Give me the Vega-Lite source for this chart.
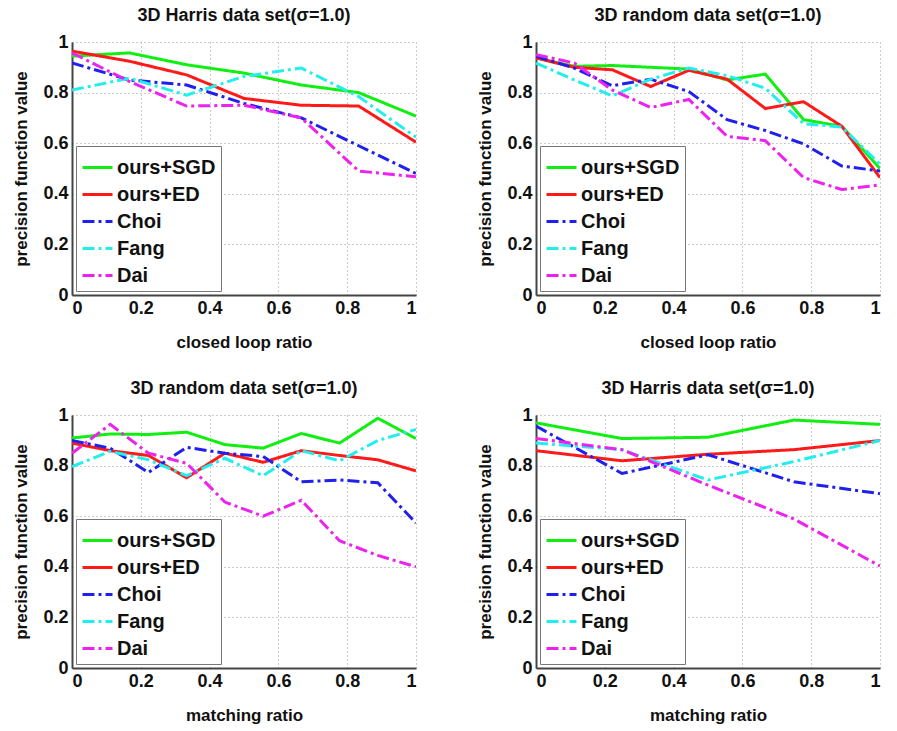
{
  "$schema": "https://vega.github.io/schema/vega-lite/v6.json",
  "background": "white",
  "padding": {"left": 12, "top": 7, "right": 8, "bottom": 6},
  "config": {
    "font": "Liberation Sans",
    "view": {"stroke": null},
    "title": {"fontSize": 18, "fontWeight": "bold", "font": "Liberation Sans", "color": "#111", "offset": 8},
    "axis": {
      "labelFont": "Liberation Sans", "labelFontSize": 18, "labelFontWeight": "bold", "labelColor": "#111",
      "titleFont": "Liberation Sans", "titleFontSize": 17, "titleFontWeight": "bold", "titleColor": "#111",
      "domainColor": "#444", "domainWidth": 2, "ticks": false, "labelPadding": 4,
      "gridColor": "#999", "gridDash": [1, 3], "gridWidth": 1
    },
    "legend": {
      "orient": "bottom-left", "offset": 4, "fillColor": "white", "strokeColor": "#777",
      "padding": 5, "labelFont": "Liberation Sans", "labelFontSize": 20, "labelFontWeight": "bold", "labelColor": "#111",
      "symbolType": "stroke", "symbolSize": 900, "symbolStrokeWidth": 3, "rowPadding": -4, "labelOffset": 3, "labelLimit": 200
    }
  },
  "datasets": {
    "p1": [
      {"m":"ours+SGD","x":0,"y":0.944},{"m":"ours+SGD","x":0.1667,"y":0.957},{"m":"ours+SGD","x":0.3333,"y":0.91},{"m":"ours+SGD","x":0.5,"y":0.877},{"m":"ours+SGD","x":0.6667,"y":0.83},{"m":"ours+SGD","x":0.8333,"y":0.8},{"m":"ours+SGD","x":1,"y":0.707},
      {"m":"ours+ED","x":0,"y":0.964},{"m":"ours+ED","x":0.1667,"y":0.924},{"m":"ours+ED","x":0.3333,"y":0.87},{"m":"ours+ED","x":0.5,"y":0.777},{"m":"ours+ED","x":0.6667,"y":0.75},{"m":"ours+ED","x":0.8333,"y":0.747},{"m":"ours+ED","x":1,"y":0.604},
      {"m":"Choi","x":0,"y":0.917},{"m":"Choi","x":0.1667,"y":0.85},{"m":"Choi","x":0.3333,"y":0.83},{"m":"Choi","x":0.5,"y":0.757},{"m":"Choi","x":0.6667,"y":0.7},{"m":"Choi","x":0.8333,"y":0.59},{"m":"Choi","x":1,"y":0.48},
      {"m":"Fang","x":0,"y":0.81},{"m":"Fang","x":0.1667,"y":0.857},{"m":"Fang","x":0.3333,"y":0.79},{"m":"Fang","x":0.5,"y":0.864},{"m":"Fang","x":0.6667,"y":0.897},{"m":"Fang","x":0.8333,"y":0.784},{"m":"Fang","x":1,"y":0.624},
      {"m":"Dai","x":0,"y":0.957},{"m":"Dai","x":0.1667,"y":0.844},{"m":"Dai","x":0.3333,"y":0.747},{"m":"Dai","x":0.5,"y":0.75},{"m":"Dai","x":0.6667,"y":0.7},{"m":"Dai","x":0.8333,"y":0.49},{"m":"Dai","x":1,"y":0.467}
    ],
    "p2": [
      {"m":"ours+SGD","x":0,"y":0.937},{"m":"ours+SGD","x":0.1111,"y":0.904},{"m":"ours+SGD","x":0.2222,"y":0.907},{"m":"ours+SGD","x":0.3333,"y":0.9},{"m":"ours+SGD","x":0.4444,"y":0.893},{"m":"ours+SGD","x":0.5556,"y":0.85},{"m":"ours+SGD","x":0.6667,"y":0.873},{"m":"ours+SGD","x":0.7778,"y":0.693},{"m":"ours+SGD","x":0.8889,"y":0.667},{"m":"ours+SGD","x":1,"y":0.5},
      {"m":"ours+ED","x":0,"y":0.937},{"m":"ours+ED","x":0.1111,"y":0.9},{"m":"ours+ED","x":0.2222,"y":0.89},{"m":"ours+ED","x":0.3333,"y":0.824},{"m":"ours+ED","x":0.4444,"y":0.888},{"m":"ours+ED","x":0.5556,"y":0.853},{"m":"ours+ED","x":0.6667,"y":0.737},{"m":"ours+ED","x":0.7778,"y":0.764},{"m":"ours+ED","x":0.8889,"y":0.667},{"m":"ours+ED","x":1,"y":0.464},
      {"m":"Choi","x":0,"y":0.944},{"m":"Choi","x":0.1111,"y":0.897},{"m":"Choi","x":0.2222,"y":0.827},{"m":"Choi","x":0.3333,"y":0.853},{"m":"Choi","x":0.4444,"y":0.804},{"m":"Choi","x":0.5556,"y":0.693},{"m":"Choi","x":0.6667,"y":0.65},{"m":"Choi","x":0.7778,"y":0.597},{"m":"Choi","x":0.8889,"y":0.51},{"m":"Choi","x":1,"y":0.49},
      {"m":"Fang","x":0,"y":0.917},{"m":"Fang","x":0.1111,"y":0.85},{"m":"Fang","x":0.2222,"y":0.787},{"m":"Fang","x":0.3333,"y":0.853},{"m":"Fang","x":0.4444,"y":0.897},{"m":"Fang","x":0.5556,"y":0.867},{"m":"Fang","x":0.6667,"y":0.817},{"m":"Fang","x":0.7778,"y":0.677},{"m":"Fang","x":0.8889,"y":0.664},{"m":"Fang","x":1,"y":0.517},
      {"m":"Dai","x":0,"y":0.95},{"m":"Dai","x":0.1111,"y":0.917},{"m":"Dai","x":0.2222,"y":0.81},{"m":"Dai","x":0.3333,"y":0.741},{"m":"Dai","x":0.4444,"y":0.773},{"m":"Dai","x":0.5556,"y":0.627},{"m":"Dai","x":0.6667,"y":0.61},{"m":"Dai","x":0.7778,"y":0.464},{"m":"Dai","x":0.8889,"y":0.417},{"m":"Dai","x":1,"y":0.435}
    ],
    "p3": [
      {"m":"ours+SGD","x":0,"y":0.909},{"m":"ours+SGD","x":0.1111,"y":0.925},{"m":"ours+SGD","x":0.2222,"y":0.923},{"m":"ours+SGD","x":0.3333,"y":0.932},{"m":"ours+SGD","x":0.4444,"y":0.883},{"m":"ours+SGD","x":0.5556,"y":0.869},{"m":"ours+SGD","x":0.6667,"y":0.927},{"m":"ours+SGD","x":0.7778,"y":0.889},{"m":"ours+SGD","x":0.8889,"y":0.987},{"m":"ours+SGD","x":1,"y":0.907},
      {"m":"ours+ED","x":0,"y":0.889},{"m":"ours+ED","x":0.1111,"y":0.859},{"m":"ours+ED","x":0.2222,"y":0.84},{"m":"ours+ED","x":0.3333,"y":0.752},{"m":"ours+ED","x":0.4444,"y":0.849},{"m":"ours+ED","x":0.5556,"y":0.813},{"m":"ours+ED","x":0.6667,"y":0.859},{"m":"ours+ED","x":0.7778,"y":0.84},{"m":"ours+ED","x":0.8889,"y":0.823},{"m":"ours+ED","x":1,"y":0.779},
      {"m":"Choi","x":0,"y":0.899},{"m":"Choi","x":0.1111,"y":0.869},{"m":"Choi","x":0.2222,"y":0.773},{"m":"Choi","x":0.3333,"y":0.872},{"m":"Choi","x":0.4444,"y":0.849},{"m":"Choi","x":0.5556,"y":0.836},{"m":"Choi","x":0.6667,"y":0.736},{"m":"Choi","x":0.7778,"y":0.743},{"m":"Choi","x":0.8889,"y":0.732},{"m":"Choi","x":1,"y":0.573},
      {"m":"Fang","x":0,"y":0.796},{"m":"Fang","x":0.1111,"y":0.856},{"m":"Fang","x":0.2222,"y":0.823},{"m":"Fang","x":0.3333,"y":0.76},{"m":"Fang","x":0.4444,"y":0.829},{"m":"Fang","x":0.5556,"y":0.76},{"m":"Fang","x":0.6667,"y":0.859},{"m":"Fang","x":0.7778,"y":0.819},{"m":"Fang","x":0.8889,"y":0.899},{"m":"Fang","x":1,"y":0.943},
      {"m":"Dai","x":0,"y":0.849},{"m":"Dai","x":0.1111,"y":0.963},{"m":"Dai","x":0.2222,"y":0.849},{"m":"Dai","x":0.3333,"y":0.809},{"m":"Dai","x":0.4444,"y":0.656},{"m":"Dai","x":0.5556,"y":0.6},{"m":"Dai","x":0.6667,"y":0.663},{"m":"Dai","x":0.7778,"y":0.503},{"m":"Dai","x":0.8889,"y":0.445},{"m":"Dai","x":1,"y":0.4}
    ],
    "p4": [
      {"m":"ours+SGD","x":0,"y":0.969},{"m":"ours+SGD","x":0.25,"y":0.907},{"m":"ours+SGD","x":0.5,"y":0.912},{"m":"ours+SGD","x":0.75,"y":0.98},{"m":"ours+SGD","x":1,"y":0.963},
      {"m":"ours+ED","x":0,"y":0.859},{"m":"ours+ED","x":0.25,"y":0.819},{"m":"ours+ED","x":0.5,"y":0.845},{"m":"ours+ED","x":0.75,"y":0.863},{"m":"ours+ED","x":1,"y":0.899},
      {"m":"Choi","x":0,"y":0.956},{"m":"Choi","x":0.25,"y":0.769},{"m":"Choi","x":0.5,"y":0.843},{"m":"Choi","x":0.75,"y":0.736},{"m":"Choi","x":1,"y":0.689},
      {"m":"Fang","x":0,"y":0.889},{"m":"Fang","x":0.25,"y":0.863},{"m":"Fang","x":0.5,"y":0.743},{"m":"Fang","x":0.75,"y":0.816},{"m":"Fang","x":1,"y":0.899},
      {"m":"Dai","x":0,"y":0.907},{"m":"Dai","x":0.25,"y":0.863},{"m":"Dai","x":0.5,"y":0.723},{"m":"Dai","x":0.75,"y":0.589},{"m":"Dai","x":1,"y":0.403}
    ]
  },
  "columns": 2,
  "spacing": 120,
  "bounds": "flush",
  "concat": [
    {
      "title": "3D Harris data set(σ=1.0)",
      "width": 344, "height": 253,
      "data": {"name": "p1"},
      "mark": {"type": "line", "strokeWidth": 3, "clip": true},
      "encoding": {
        "x": {"field": "x", "type": "quantitative", "scale": {"domain": [0, 1], "nice": false}, "axis": {"title": "closed loop ratio", "values": [0, 0.2, 0.4, 0.6, 0.8, 1], "format": "~g", "titlePadding": 17}},
        "y": {"field": "y", "type": "quantitative", "scale": {"domain": [0, 1], "nice": false}, "axis": {"title": "precision function value", "values": [0, 0.2, 0.4, 0.6, 0.8, 1], "format": "~g", "titlePadding": 12}},
        "color": {"field": "m", "type": "nominal", "title": null, "scale": {"domain": ["ours+SGD", "ours+ED", "Choi", "Fang", "Dai"], "range": ["#11ee11", "#ff1a1a", "#2020ee", "#22eeee", "#ee22ee"]}},
        "strokeDash": {"field": "m", "type": "nominal", "title": null, "scale": {"domain": ["ours+SGD", "ours+ED", "Choi", "Fang", "Dai"], "range": [[1, 0], [1, 0], [12, 4, 3, 4], [12, 4, 3, 4], [12, 4, 3, 4]]}},
        "order": {"field": "x", "type": "quantitative"}
      }
    },
    {
      "title": "3D random data set(σ=1.0)",
      "width": 344, "height": 253,
      "data": {"name": "p2"},
      "mark": {"type": "line", "strokeWidth": 3, "clip": true},
      "encoding": {
        "x": {"field": "x", "type": "quantitative", "scale": {"domain": [0, 1], "nice": false}, "axis": {"title": "closed loop ratio", "values": [0, 0.2, 0.4, 0.6, 0.8, 1], "format": "~g", "titlePadding": 17}},
        "y": {"field": "y", "type": "quantitative", "scale": {"domain": [0, 1], "nice": false}, "axis": {"title": "precision function value", "values": [0, 0.2, 0.4, 0.6, 0.8, 1], "format": "~g", "titlePadding": 12}},
        "color": {"field": "m", "type": "nominal", "title": null, "scale": {"domain": ["ours+SGD", "ours+ED", "Choi", "Fang", "Dai"], "range": ["#11ee11", "#ff1a1a", "#2020ee", "#22eeee", "#ee22ee"]}},
        "strokeDash": {"field": "m", "type": "nominal", "title": null, "scale": {"domain": ["ours+SGD", "ours+ED", "Choi", "Fang", "Dai"], "range": [[1, 0], [1, 0], [12, 4, 3, 4], [12, 4, 3, 4], [12, 4, 3, 4]]}},
        "order": {"field": "x", "type": "quantitative"}
      }
    },
    {
      "title": "3D random data set(σ=1.0)",
      "width": 344, "height": 253,
      "data": {"name": "p3"},
      "mark": {"type": "line", "strokeWidth": 3, "clip": true},
      "encoding": {
        "x": {"field": "x", "type": "quantitative", "scale": {"domain": [0, 1], "nice": false}, "axis": {"title": "matching ratio", "values": [0, 0.2, 0.4, 0.6, 0.8, 1], "format": "~g", "titlePadding": 17}},
        "y": {"field": "y", "type": "quantitative", "scale": {"domain": [0, 1], "nice": false}, "axis": {"title": "precision function value", "values": [0, 0.2, 0.4, 0.6, 0.8, 1], "format": "~g", "titlePadding": 12}},
        "color": {"field": "m", "type": "nominal", "title": null, "scale": {"domain": ["ours+SGD", "ours+ED", "Choi", "Fang", "Dai"], "range": ["#11ee11", "#ff1a1a", "#2020ee", "#22eeee", "#ee22ee"]}},
        "strokeDash": {"field": "m", "type": "nominal", "title": null, "scale": {"domain": ["ours+SGD", "ours+ED", "Choi", "Fang", "Dai"], "range": [[1, 0], [1, 0], [12, 4, 3, 4], [12, 4, 3, 4], [12, 4, 3, 4]]}},
        "order": {"field": "x", "type": "quantitative"}
      }
    },
    {
      "title": "3D Harris data set(σ=1.0)",
      "width": 344, "height": 253,
      "data": {"name": "p4"},
      "mark": {"type": "line", "strokeWidth": 3, "clip": true},
      "encoding": {
        "x": {"field": "x", "type": "quantitative", "scale": {"domain": [0, 1], "nice": false}, "axis": {"title": "matching ratio", "values": [0, 0.2, 0.4, 0.6, 0.8, 1], "format": "~g", "titlePadding": 17}},
        "y": {"field": "y", "type": "quantitative", "scale": {"domain": [0, 1], "nice": false}, "axis": {"title": "precision function value", "values": [0, 0.2, 0.4, 0.6, 0.8, 1], "format": "~g", "titlePadding": 12}},
        "color": {"field": "m", "type": "nominal", "title": null, "scale": {"domain": ["ours+SGD", "ours+ED", "Choi", "Fang", "Dai"], "range": ["#11ee11", "#ff1a1a", "#2020ee", "#22eeee", "#ee22ee"]}},
        "strokeDash": {"field": "m", "type": "nominal", "title": null, "scale": {"domain": ["ours+SGD", "ours+ED", "Choi", "Fang", "Dai"], "range": [[1, 0], [1, 0], [12, 4, 3, 4], [12, 4, 3, 4], [12, 4, 3, 4]]}},
        "order": {"field": "x", "type": "quantitative"}
      }
    }
  ],
  "resolve": {"scale": {"color": "independent", "strokeDash": "independent"}, "legend": {"color": "independent", "strokeDash": "independent"}}
}
